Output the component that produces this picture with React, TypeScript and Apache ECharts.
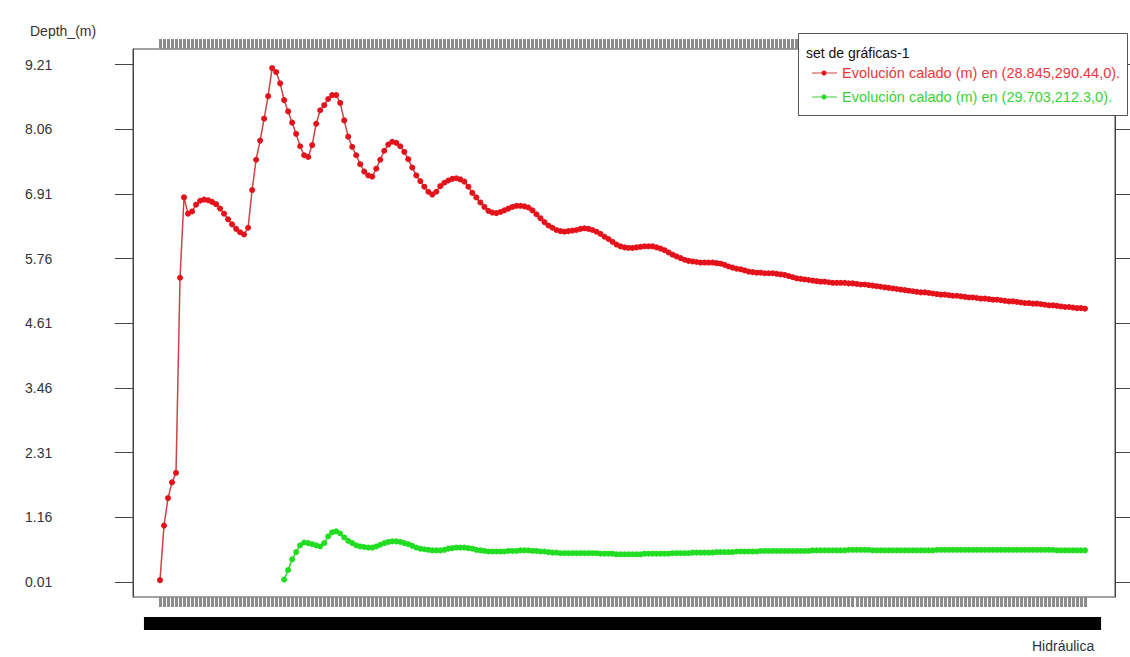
import React, { useEffect, useRef } from "react";
import * as echarts from "echarts";

const yTickValues = [0.01, 1.16, 2.31, 3.46, 4.61, 5.76, 6.91, 8.06, 9.21];
const yMin = -0.26;
const yMax = 9.49;

const redSeriesName = "Evolución calado (m) en (28.845,290.44,0).";
const greenSeriesName = "Evolución calado (m) en (29.703,212.3,0).";
const legendTitle = "set de gráficas-1";
const yAxisTitle = "Depth_(m)";
const xAxisTitle = "Hidráulica";

const redValues = [
  0.04, 1.01, 1.5, 1.78, 1.95, 5.42, 6.85, 6.56, 6.6, 6.72,
  6.79, 6.81, 6.8, 6.77, 6.73, 6.65, 6.56, 6.46, 6.37, 6.29,
  6.23, 6.19, 6.31, 6.98, 7.52, 7.86, 8.25, 8.65, 9.15, 9.08,
  8.88, 8.58, 8.38, 8.18, 7.98, 7.76, 7.6, 7.57, 7.78, 8.16,
  8.4, 8.49, 8.6, 8.67, 8.67, 8.53, 8.22, 7.93, 7.75, 7.6,
  7.44, 7.31, 7.24, 7.22, 7.36, 7.52, 7.68, 7.79, 7.84, 7.82,
  7.76, 7.66, 7.53, 7.38, 7.24, 7.14, 7.04, 6.95, 6.9, 6.95,
  7.05, 7.11, 7.15, 7.18, 7.19, 7.17, 7.13, 7.04, 6.93, 6.85,
  6.76, 6.68, 6.61, 6.58, 6.57, 6.59, 6.62, 6.65, 6.68, 6.7,
  6.7, 6.69, 6.67, 6.62, 6.55, 6.48, 6.41, 6.35, 6.31, 6.27,
  6.25, 6.24, 6.25, 6.26, 6.27, 6.29, 6.3, 6.29, 6.27, 6.24,
  6.2, 6.15, 6.11, 6.06, 6.01, 5.98, 5.96, 5.95, 5.95, 5.96,
  5.97, 5.98, 5.98, 5.98, 5.96, 5.94, 5.91, 5.87, 5.83, 5.8,
  5.77, 5.74, 5.72, 5.71, 5.7, 5.69, 5.69, 5.69, 5.69, 5.68,
  5.67, 5.65, 5.62, 5.6, 5.58, 5.57, 5.55, 5.53, 5.52, 5.51,
  5.51, 5.5, 5.5, 5.5, 5.49, 5.48, 5.47, 5.45, 5.43, 5.41,
  5.4, 5.39, 5.38, 5.37, 5.36, 5.35, 5.35, 5.34, 5.33, 5.33,
  5.33, 5.33, 5.32, 5.32, 5.31, 5.3, 5.3, 5.29, 5.28, 5.27,
  5.26, 5.25, 5.24, 5.23, 5.22, 5.21, 5.2, 5.19, 5.18, 5.17,
  5.16, 5.16, 5.15, 5.14, 5.13, 5.12, 5.12, 5.11, 5.1, 5.1,
  5.09, 5.08, 5.07, 5.07, 5.06, 5.05, 5.05, 5.04, 5.03, 5.03,
  5.02, 5.01, 5.0, 5.0, 4.99, 4.98, 4.97, 4.97, 4.96, 4.96,
  4.95, 4.94, 4.93, 4.93, 4.92, 4.91, 4.9, 4.9, 4.89, 4.88,
  4.88, 4.87,
];

const greenStartIndex = 31;
const greenValues = [
  0.05, 0.22, 0.41, 0.54, 0.66, 0.71, 0.7, 0.68, 0.66, 0.64,
  0.7, 0.82, 0.89, 0.91, 0.87, 0.8, 0.74, 0.7, 0.66, 0.64,
  0.63, 0.62, 0.62, 0.64, 0.67, 0.7, 0.72, 0.73, 0.73, 0.72,
  0.7, 0.68, 0.65, 0.62, 0.6, 0.59, 0.58, 0.57, 0.57, 0.57,
  0.58, 0.6, 0.61, 0.62, 0.62, 0.62, 0.61, 0.6, 0.58, 0.57,
  0.56, 0.55, 0.55, 0.55, 0.55,
  0.55, 0.56, 0.56, 0.56, 0.57, 0.57, 0.57, 0.56, 0.56, 0.55,
  0.55, 0.54, 0.53, 0.53, 0.52, 0.52, 0.52, 0.52, 0.52, 0.52,
  0.52, 0.52, 0.52, 0.52, 0.51, 0.51, 0.51, 0.51, 0.5, 0.5,
  0.5, 0.5, 0.5, 0.5, 0.5, 0.51, 0.51, 0.51, 0.51, 0.51,
  0.51, 0.51, 0.52, 0.52, 0.52, 0.52, 0.52, 0.53, 0.53, 0.53,
  0.53, 0.53, 0.53, 0.54, 0.54, 0.54, 0.54, 0.54, 0.55, 0.55,
  0.55, 0.55, 0.55, 0.55, 0.56, 0.56, 0.56, 0.56, 0.56, 0.56,
  0.56, 0.56, 0.56, 0.56, 0.56, 0.56, 0.56, 0.57, 0.57, 0.57,
  0.57, 0.57, 0.57, 0.57, 0.57, 0.57, 0.58, 0.58, 0.58, 0.58,
  0.58, 0.58, 0.57, 0.57, 0.57, 0.57, 0.57, 0.57, 0.57, 0.57,
  0.57, 0.57, 0.57, 0.57, 0.57, 0.57, 0.57, 0.57, 0.58, 0.58,
  0.58, 0.58, 0.58, 0.58, 0.58, 0.58, 0.58, 0.58, 0.58, 0.58,
  0.58, 0.58, 0.58, 0.58, 0.58, 0.58, 0.58, 0.58, 0.58, 0.58,
  0.58, 0.58, 0.58, 0.58, 0.58, 0.58, 0.58, 0.58, 0.57, 0.57,
  0.57, 0.57, 0.57, 0.57, 0.57, 0.57,
];

// category labels (time steps hh:mm, unreadable in the reference – they overlap into a black band)
const categories = redValues.map((_, i) => {
  const m = i * 20;
  return `${String(Math.floor(m / 60)).padStart(2, "0")}:${String(m % 60).padStart(2, "0")}`;
});

const greenData = [
  ...new Array(greenStartIndex).fill("-"),
  ...greenValues,
];

const FONT = "'Liberation Sans', Arial, sans-serif";

export default function App() {
  const ref = useRef<HTMLDivElement>(null);

  useEffect(() => {
    if (!ref.current) return;
    const chart = echarts.init(ref.current, null, { renderer: "svg" });

    const plotLeft = 133;
    const plotTop = 49;
    const plotW = 982;
    const plotH = 548;

    const bandTick = {
      show: true,
      interval: 0,
      length: 10,
      lineStyle: { color: "#8c8c8c", width: 3 },
    };

    chart.setOption({
      animation: false,
      backgroundColor: "#ffffff",
      textStyle: { fontFamily: FONT },
      grid: [
        {
          left: plotLeft,
          top: plotTop,
          width: plotW,
          height: plotH,
          show: true,
          borderColor: "#444",
          borderWidth: 1,
          backgroundColor: "transparent",
        },
        {
          left: 160,
          top: plotTop,
          width: 925,
          height: plotH,
        },
      ],
      xAxis: [
        { gridIndex: 0, type: "value", min: 0, max: 1, show: false },
        {
          gridIndex: 1,
          type: "category",
          data: categories,
          boundaryGap: false,
          position: "bottom",
          axisLine: { show: false, onZero: false },
          axisTick: bandTick,
          axisLabel: {
            show: true,
            interval: 0,
            margin: 20,
            fontSize: 11,
            fontWeight: "bold",
            color: "#000",
            backgroundColor: "#000",
            padding: [1, 2, 1, 2],
            fontFamily: FONT,
          },
          splitLine: { show: false },
        },
        {
          gridIndex: 1,
          type: "category",
          data: categories,
          boundaryGap: false,
          position: "top",
          axisLine: { show: false, onZero: false },
          axisTick: bandTick,
          axisLabel: { show: false },
          splitLine: { show: false },
        },
      ],
      yAxis: [
        {
          gridIndex: 0,
          type: "value",
          min: yMin,
          max: yMax,
          position: "left",
          axisLine: { show: true, lineStyle: { color: "#444" } },
          axisTick: {
            show: true,
            length: 18,
            customValues: yTickValues,
            lineStyle: { color: "#444" },
          },
          axisLabel: {
            show: true,
            customValues: yTickValues,
            formatter: (v: number) => v.toFixed(2),
            align: "left",
            margin: 108,
            fontSize: 14,
            color: "#333",
            fontFamily: FONT,
          },
          splitLine: { show: false },
        },
        {
          gridIndex: 0,
          type: "value",
          min: yMin,
          max: yMax,
          position: "right",
          axisLine: { show: true, lineStyle: { color: "#444" } },
          axisTick: {
            show: true,
            length: 15,
            customValues: yTickValues,
            lineStyle: { color: "#444" },
          },
          axisLabel: { show: false },
          splitLine: { show: false },
        },
        { gridIndex: 1, type: "value", min: yMin, max: yMax, show: false },
      ],
      series: [
        {
          name: redSeriesName,
          type: "line",
          xAxisIndex: 1,
          yAxisIndex: 2,
          data: redValues,
          symbol: "circle",
          symbolSize: 6,
          showSymbol: true,
          showAllSymbol: true,
          lineStyle: { color: "#cc4444", width: 1.5 },
          itemStyle: { color: "#e3121b" },
          z: 3,
        },
        {
          name: greenSeriesName,
          type: "line",
          xAxisIndex: 1,
          yAxisIndex: 2,
          data: greenData,
          symbol: "circle",
          symbolSize: 6,
          showSymbol: true,
          showAllSymbol: true,
          lineStyle: { color: "#33d633", width: 1.5 },
          itemStyle: { color: "#22dd22" },
          z: 3,
        },
      ],
      graphic: [
        {
          type: "text",
          x: 30,
          y: 31,
          z: 100,
          style: {
            text: yAxisTitle,
            fill: "#333",
            fontSize: 14,
            fontFamily: FONT,
            verticalAlign: "middle",
          },
        },
        {
          type: "text",
          x: 1032,
          y: 646,
          z: 100,
          style: {
            text: xAxisTitle,
            fill: "#333",
            fontSize: 14,
            fontFamily: FONT,
            verticalAlign: "middle",
          },
        },
        {
          type: "group",
          z: 100,
          children: [
            {
              type: "rect",
              z: 100,
              shape: { x: 798.5, y: 33.5, width: 329, height: 82 },
              style: { fill: "#fff", stroke: "#555", lineWidth: 1 },
            },
            {
              type: "text",
              z: 101,
              x: 806,
              y: 53,
              style: {
                text: legendTitle,
                fill: "#111",
                fontSize: 14,
                fontFamily: FONT,
                verticalAlign: "middle",
              },
            },
            {
              type: "line",
              z: 101,
              shape: { x1: 812, y1: 73, x2: 837, y2: 73 },
              style: { stroke: "#d23c3c", lineWidth: 1 },
            },
            {
              type: "circle",
              z: 102,
              shape: { cx: 824, cy: 73, r: 2.5 },
              style: { fill: "#e3121b" },
            },
            {
              type: "text",
              z: 101,
              x: 842,
              y: 73,
              style: {
                text: redSeriesName,
                fill: "#e8383d",
                fontSize: 14.5,
                fontFamily: FONT,
                verticalAlign: "middle",
              },
            },
            {
              type: "line",
              z: 101,
              shape: { x1: 812, y1: 97, x2: 837, y2: 97 },
              style: { stroke: "#3fcf3f", lineWidth: 1 },
            },
            {
              type: "circle",
              z: 102,
              shape: { cx: 824, cy: 97, r: 2.5 },
              style: { fill: "#22dd22" },
            },
            {
              type: "text",
              z: 101,
              x: 842,
              y: 97,
              style: {
                text: greenSeriesName,
                fill: "#3ad13a",
                fontSize: 14.5,
                fontFamily: FONT,
                verticalAlign: "middle",
              },
            },
          ],
        },
      ],
    });

    return () => chart.dispose();
  }, []);

  return (
    <div
      ref={ref}
      style={{ position: "fixed", left: 0, top: 0, width: 1130, height: 657 }}
    />
  );
}
